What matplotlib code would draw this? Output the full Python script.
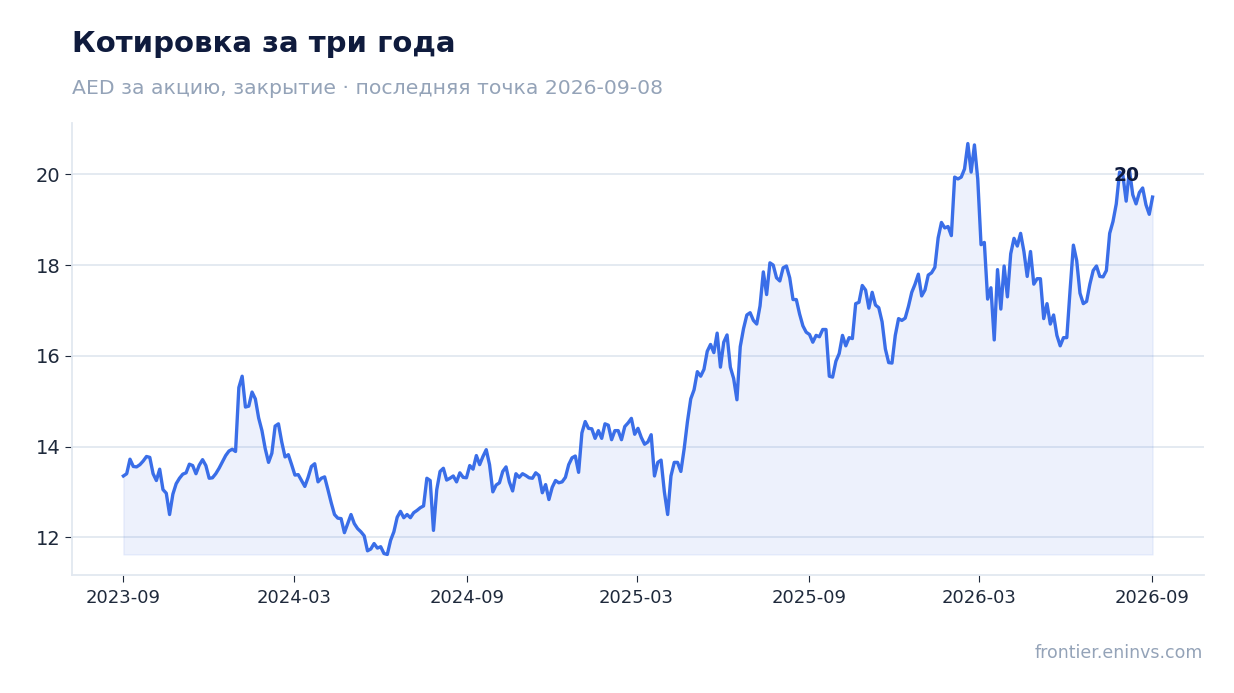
import numpy as np
import pandas as pd
import matplotlib
matplotlib.use("Agg")
import matplotlib.pyplot as plt
import matplotlib.dates as mdates

# --- data ---
TITLE = "Котировка за три года"
SUBTITLE = "AED за акцию, закрытие · последняя точка 2026-09-08"
SOURCE = "frontier.eninvs.com"

START_DATE = "2023-09-01"
END_DATE = "2026-09-02"

price = [
    13.35, 13.40, 13.72, 13.56, 13.55, 13.60, 13.68, 13.78, 13.76, 13.40,
    13.25, 13.50, 13.05, 12.97, 12.50, 12.95, 13.18, 13.30, 13.39, 13.42,
    13.61, 13.58, 13.40, 13.59, 13.71, 13.58, 13.30, 13.31, 13.40, 13.52,
    13.66, 13.80, 13.90, 13.94, 13.89, 15.30, 15.55, 14.87, 14.89, 15.20,
    15.05, 14.63, 14.35, 13.95, 13.65, 13.85, 14.45, 14.50, 14.10, 13.77,
    13.82, 13.60, 13.37, 13.38, 13.25, 13.12, 13.32, 13.56, 13.62, 13.22,
    13.30, 13.33, 13.05, 12.76, 12.50, 12.42, 12.41, 12.10, 12.30, 12.50,
    12.30, 12.19, 12.12, 12.03, 11.70, 11.74, 11.86, 11.76, 11.79, 11.64,
    11.62, 11.93, 12.12, 12.44, 12.57, 12.43, 12.50, 12.43, 12.54, 12.59,
    12.65, 12.69, 13.30, 13.25, 12.15, 13.05, 13.45, 13.52, 13.26, 13.30,
    13.35, 13.22, 13.42, 13.32, 13.31, 13.58, 13.50, 13.80, 13.60, 13.78,
    13.93, 13.60, 13.00, 13.15, 13.20, 13.45, 13.55, 13.22, 13.02, 13.40,
    13.32, 13.40, 13.36, 13.31, 13.30, 13.42, 13.36, 12.98, 13.16, 12.83,
    13.10, 13.25, 13.20, 13.22, 13.32, 13.60, 13.75, 13.79, 13.43, 14.30,
    14.55, 14.40, 14.39, 14.18, 14.35, 14.18, 14.50, 14.47, 14.15, 14.35,
    14.35, 14.15, 14.44, 14.52, 14.62, 14.27, 14.40, 14.20, 14.05, 14.10,
    14.26, 13.35, 13.65, 13.70, 13.00, 12.50, 13.35, 13.65, 13.65, 13.45,
    13.95, 14.55, 15.05, 15.25, 15.65, 15.55, 15.70, 16.10, 16.25, 16.07,
    16.50, 15.75, 16.30, 16.46, 15.75, 15.50, 15.03, 16.20, 16.60, 16.90,
    16.95, 16.78, 16.70, 17.10, 17.85, 17.35, 18.05, 18.00, 17.72, 17.65,
    17.94, 17.98, 17.72, 17.24, 17.24, 16.92, 16.66, 16.52, 16.47, 16.30,
    16.45, 16.42, 16.58, 16.58, 15.55, 15.53, 15.88, 16.05, 16.45, 16.22,
    16.40, 16.38, 17.15, 17.18, 17.55, 17.45, 17.05, 17.40, 17.12, 17.06,
    16.75, 16.15, 15.85, 15.84, 16.45, 16.82, 16.78, 16.83, 17.09, 17.40,
    17.58, 17.80, 17.32, 17.45, 17.78, 17.83, 17.95, 18.60, 18.94, 18.82,
    18.85, 18.65, 19.94, 19.90, 19.94, 20.12, 20.68, 20.05, 20.65, 19.90,
    18.45, 18.50, 17.25, 17.50, 16.35, 17.90, 17.03, 17.98, 17.30, 18.25,
    18.59, 18.42, 18.70, 18.30, 17.75, 18.30, 17.58, 17.70, 17.70, 16.82,
    17.15, 16.70, 16.90, 16.45, 16.22, 16.40, 16.40, 17.45, 18.44, 18.10,
    17.38, 17.15, 17.20, 17.58, 17.88, 17.98, 17.75, 17.74, 17.88, 18.70,
    18.96, 19.35, 20.05, 19.98, 19.41, 20.10, 19.55, 19.35, 19.60, 19.70,
    19.33, 19.12, 19.50,
]

y_ticks = [12, 14, 16, 18, 20]

LINE_COLOR = "#3a6ee8"
TEXT_DARK = "#0f1b3d"
TEXT_MUTED = "#94a3b8"
GRID_COLOR = "#e2e8f0"


def main():
    dates = pd.date_range(START_DATE, END_DATE, periods=len(price))
    values = np.array(price)

    fig = plt.figure(figsize=(12.34, 6.93), dpi=100)
    ax = fig.add_axes([0.0583, 0.1703, 0.9174, 0.6522])

    ax.fill_between(dates, values, values.min(), color=LINE_COLOR, alpha=0.09)
    ax.plot(dates, values, color=LINE_COLOR, lw=2.4, solid_joinstyle="round")

    # label the recent high
    recent = len(values) - 45
    i_hi = recent + int(np.argmax(values[recent:]))
    ax.annotate(f"{values[i_hi]:.0f}", xy=(dates[i_hi], values[i_hi]),
                xytext=(-2, -4), textcoords="offset points",
                ha="center", va="center", fontsize=13.5, fontweight="bold",
                color=TEXT_DARK)

    ax.set_yticks(y_ticks)
    ax.xaxis.set_major_locator(mdates.MonthLocator(bymonth=[3, 9]))
    ax.xaxis.set_major_formatter(mdates.DateFormatter("%Y-%m"))

    ax.grid(axis="y", color=GRID_COLOR, lw=1.3)
    ax.set_axisbelow(True)
    for side in ("top", "right"):
        ax.spines[side].set_visible(False)
    for side in ("left", "bottom"):
        ax.spines[side].set_color(GRID_COLOR)
        ax.spines[side].set_linewidth(1.3)

    ax.tick_params(axis="y", labelsize=14, colors="#1e293b", length=5)
    ax.tick_params(axis="x", labelsize=13, colors="#1e293b", length=5, pad=5)

    fig.text(72 / 1234, 0.9254, TITLE, fontsize=21, fontweight="bold",
             color=TEXT_DARK, va="baseline", ha="left")
    fig.text(72 / 1234, 0.8644, SUBTITLE, fontsize=14.7, color=TEXT_MUTED,
             va="baseline", ha="left")
    fig.text(1203 / 1234, 1 - 658 / 693, SOURCE, fontsize=12.5,
             color=TEXT_MUTED, va="baseline", ha="right")

    fig.savefig("out.png", dpi=100, facecolor="white")
    plt.close(fig)


if __name__ == "__main__":
    main()
